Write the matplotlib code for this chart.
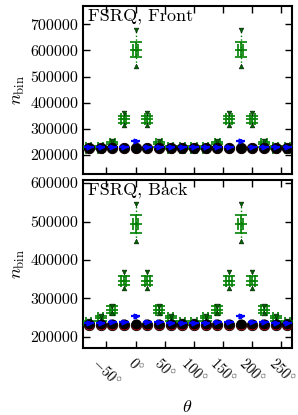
import numpy as np
import matplotlib
matplotlib.use("Agg")
import matplotlib.pyplot as plt
from matplotlib.ticker import FixedLocator, NullFormatter

plt.rcParams['font.family'] = ['cmr10', 'DejaVu Serif']
plt.rcParams['mathtext.fontset'] = 'cm'
plt.rcParams['axes.unicode_minus'] = False
plt.rcParams['axes.formatter.use_mathtext'] = True

theta = [-80, -60, -40, -20, 0, 20, 40, 60, 80, 100, 120, 140, 160, 180, 200, 220, 240, 260]

# Front
front_black = [228000] * 18
front_red = [225000] * 18
front_blue = [231000, 230000, 231000, 232000, 254000, 232000, 231000, 230000, 230000,
              230000, 230000, 231000, 232000, 254000, 232000, 231000, 230000, 230000]
front_blue_err = [4000, 4000, 4000, 4000, 6000, 4000, 4000, 4000, 4000,
                  4000, 4000, 4000, 4000, 6000, 4000, 4000, 4000, 4000]
front_green = [228000, 228000, 240000, 336000, 602000, 336000, 240000, 228000, 228000,
               228000, 228000, 240000, 336000, 602000, 336000, 240000, 228000, 228000]
front_green_err = [5000, 5000, 8000, 12000, 29000, 12000, 8000, 5000, 5000,
                   5000, 5000, 8000, 12000, 29000, 12000, 8000, 5000, 5000]
front_green_hi = [234000, 234000, 252000, 359000, 677000, 359000, 252000, 234000, 234000,
                  234000, 234000, 252000, 359000, 677000, 359000, 252000, 234000, 234000]
front_green_lo = [222000, 222000, 230000, 315000, 540000, 315000, 230000, 222000, 222000,
                  222000, 222000, 230000, 315000, 540000, 315000, 230000, 222000, 222000]

# Back
back_black = [233000] * 18
back_red = [230000] * 18
back_blue = [236000, 237000, 238000, 239000, 253000, 239000, 238000, 237000, 236000,
             236000, 237000, 238000, 239000, 253000, 239000, 238000, 237000, 236000]
back_blue_err = [4000, 4000, 4000, 4000, 6000, 4000, 4000, 4000, 4000,
                 4000, 4000, 4000, 4000, 6000, 4000, 4000, 4000, 4000]
back_green = [235000, 248000, 271000, 346000, 493000, 346000, 271000, 248000, 235000,
              235000, 248000, 271000, 346000, 493000, 346000, 271000, 248000, 235000]
back_green_err = [5000, 6000, 8000, 12000, 23000, 12000, 8000, 6000, 5000,
                  5000, 6000, 8000, 12000, 23000, 12000, 8000, 6000, 5000]
back_green_hi = [241000, 255000, 280000, 368000, 545000, 368000, 280000, 255000, 241000,
                 241000, 255000, 280000, 368000, 545000, 368000, 280000, 255000, 241000]
back_green_lo = [229000, 241000, 262000, 326000, 450000, 326000, 262000, 241000, 229000,
                 229000, 241000, 262000, 326000, 450000, 326000, 262000, 241000, 229000]

xticks = [-50, 0, 50, 100, 150, 200, 250]
xticklabels = [r'$-50^{\circ}$', r'$0^{\circ}$', r'$50^{\circ}$', r'$100^{\circ}$',
               r'$150^{\circ}$', r'$200^{\circ}$', r'$250^{\circ}$']
front_yticks = [200000, 300000, 400000, 500000, 600000, 700000]
back_yticks = [200000, 300000, 400000, 500000, 600000]

fig = plt.figure(figsize=(2.98, 4.15), dpi=100)
ax1 = fig.add_axes([0.2785, 0.5807, 0.7013, 0.4048])
ax2 = fig.add_axes([0.2785, 0.1614, 0.7013, 0.4049])

FS = 11.5


def draw(ax, black, red, blue, blue_err, green, green_err, hi, lo, title):
    ax.vlines(theta, lo, hi, colors='green', linestyles=':', linewidth=1.0, zorder=2)
    ax.errorbar(theta, green, yerr=green_err, xerr=4.5, fmt='_', color='green',
                ms=8, mew=1.2, elinewidth=1.2, capsize=4, capthick=1.2, zorder=3)
    ax.plot(theta, hi, 'v', color='darkgreen', ms=3.5, mec='black', mew=0.3, zorder=4)
    ax.plot(theta, lo, '^', color='darkgreen', ms=3.5, mec='black', mew=0.3, zorder=4)
    ax.plot(theta, red, 'o', color='red', ms=7.5, mec='black', mew=0.6, zorder=5)
    ax.plot(theta, black, 'o', color='black', ms=6.3, zorder=6)
    ax.errorbar(theta, blue, yerr=blue_err, xerr=8, fmt='>', color='blue',
                ms=3.5, elinewidth=1.6, capsize=0, zorder=7)
    ax.set_xlim(-90, 268)
    ax.xaxis.set_major_locator(FixedLocator(xticks))
    ax.tick_params(direction='in', top=True, right=True, length=5, width=1,
                   labelsize=FS)
    for s in ax.spines.values():
        s.set_linewidth(1.5)
    ax.text(0.025, 0.985, title, transform=ax.transAxes, fontsize=13,
            va='top', ha='left')
    ax.set_ylabel(r'$n_{\rm bin}$', fontsize=13, labelpad=2)


draw(ax1, front_black, front_red, front_blue, front_blue_err, front_green,
     front_green_err, front_green_hi, front_green_lo, 'FSRQ, Front')
ax1.set_ylim(127000, 770000)
ax1.set_yticks(front_yticks)
ax1.set_yticklabels([str(v) for v in front_yticks])
ax1.xaxis.set_major_formatter(NullFormatter())

draw(ax2, back_black, back_red, back_blue, back_blue_err, back_green,
     back_green_err, back_green_hi, back_green_lo, 'FSRQ, Back')
ax2.set_ylim(171000, 608000)
ax2.set_yticks(back_yticks)
ax2.set_yticklabels([str(v) for v in back_yticks])
ax2.set_xticklabels(xticklabels, rotation=-45, ha='center', va='top', fontsize=10.5)
ax2.tick_params(axis='x', pad=5)
fig.text(0.629, 1 - 407 / 415, r'$\theta$', fontsize=13, ha='center', va='center')

fig.align_ylabels([ax1, ax2])
fig.savefig('out.png', dpi=100)
